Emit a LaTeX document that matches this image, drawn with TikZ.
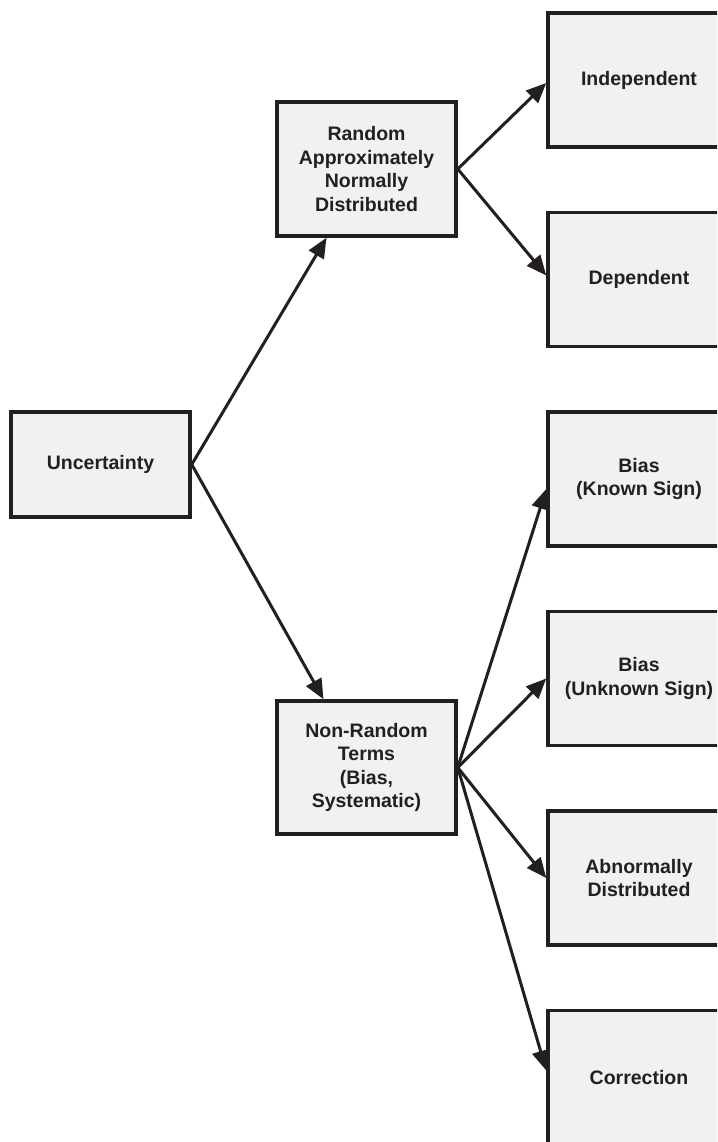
\documentclass[tikz,border=0pt]{standalone}
\usepackage{fontspec}
\setmainfont{Liberation Sans}
\usetikzlibrary{arrows.meta}
\definecolor{ink}{HTML}{231F20}
\definecolor{boxfill}{HTML}{F1F1F1}
\tikzset{
  box/.style={draw=ink, fill=boxfill, line width=3.5pt, align=center, text=ink,
    font=\fontsize{19.5}{23.5}\selectfont\bfseries, inner sep=0pt},
  midbox/.style={box, minimum width=179pt, minimum height=134pt},
  leafbox/.style={box, minimum width=182pt, minimum height=134pt},
  link/.style={draw=ink, line width=3pt, -{Triangle[length=20pt,width=17pt]}}
}
\begin{document}
\begin{tikzpicture}[x=1pt,y=-1pt]
\useasboundingbox (0,0) rectangle (717,1142);
\clip (0,0) rectangle (717,1142);
\fill[white] (0,0) rectangle (717,1142);

% root and the two main branches
\node[box, minimum width=179pt, minimum height=105pt] (unc) at (100.5,464.5) {Uncertainty};
\node[midbox] (rand) at (366.5,169) {Random\\Approximately\\Normally\\Distributed};
\node[midbox, minimum height=133pt] (nonr) at (366.5,767.5) {Non-Random\\Terms\\(Bias,\\Systematic)};

% leaves, running off the right edge
\node[leafbox] (ind)  at (639,80)    {Independent};
\node[leafbox] (dep)  at (639,279.5) {Dependent};
\node[leafbox] (bkn)  at (639,479)   {Bias\\(Known Sign)};
\node[leafbox] (bunk) at (639,678.5) {Bias\\(Unknown Sign)};
\node[leafbox] (abn)  at (639,878)   {Abnormally\\Distributed};
\node[leafbox] (cor)  at (639,1077.5){Correction};

% connectors
\draw[link] (unc.east) -- ([xshift=-40pt]rand.south);
\draw[link] (unc.east) -- ([xshift=-43pt]nonr.north);
\draw[link] (rand.east) -- ([yshift=-3pt]ind.west);
\draw[link] (rand.east) -- ([yshift=4pt]dep.west);
\draw[link] (nonr.east) -- ([yshift=-10pt]bkn.west);
\draw[link] (nonr.east) -- (bunk.west);
\draw[link] (nonr.east) -- (abn.west);
\draw[link] (nonr.east) -- ([yshift=7pt]cor.west);
\end{tikzpicture}
\end{document}
